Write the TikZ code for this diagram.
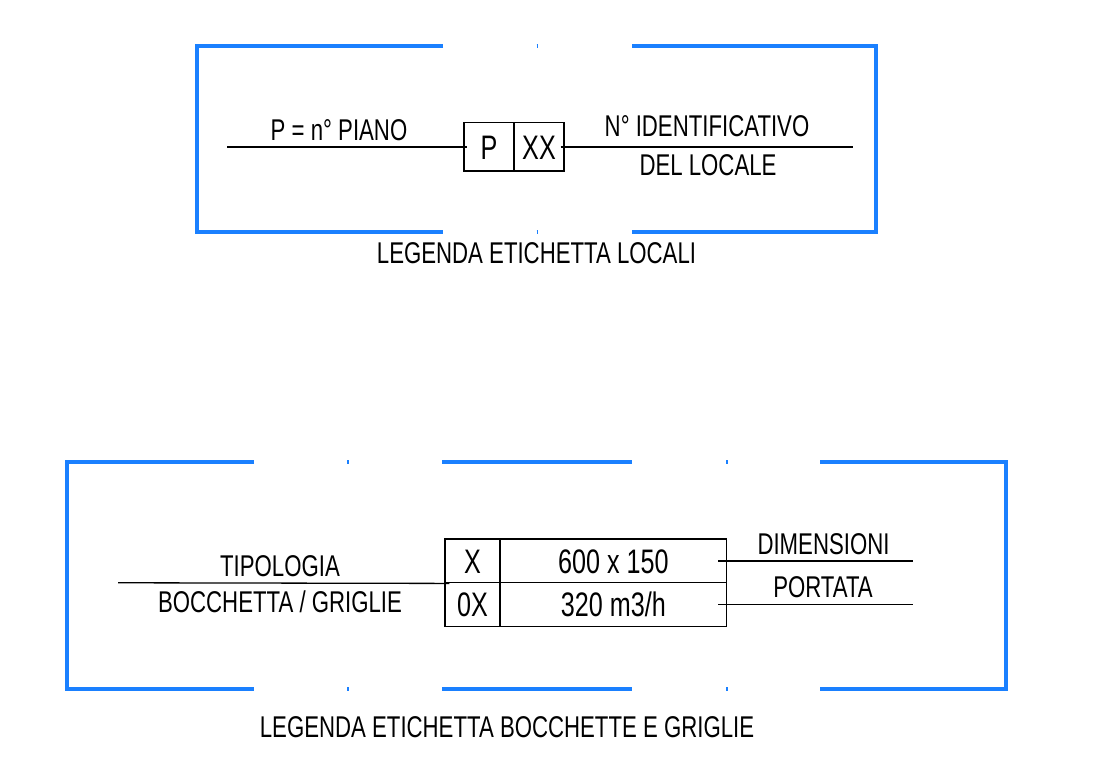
\documentclass[tikz,border=0pt]{standalone}
\usepackage{fontspec}
\setmainfont{Liberation Sans}[FakeStretch=0.74]
\definecolor{frameblue}{RGB}{26,128,255}
\newcommand\lblfont{\fontsize{30}{36}\selectfont}
\newcommand\cellfnt{\fontsize{34}{40}\selectfont}
\tikzset{
	frame/.style={draw=frameblue,line width=4.5pt},
	lead/.style={line width=1.3pt},
	label/.style={font=\lblfont,inner sep=0pt,anchor=base},
	cell/.style={draw,line width=1.3pt,inner sep=0pt,font=\cellfnt,text height=24.3pt,text depth=0pt},
}
\begin{document}
\begin{tikzpicture}[x=1pt,y=-1pt]
\useasboundingbox (0,0) rectangle (1113,767);
\draw[frame] (443,46) -- (197,46) -- (197,232) -- (443,232);
\draw[frame] (632,46) -- (876,46) -- (876,232) -- (632,232);
\draw[frame] (254,462) -- (67,462) -- (67,689) -- (254,689);
\draw[frame] (442,462) -- (632,462);
\draw[frame] (442,689) -- (632,689);
\draw[frame] (820,462) -- (1006,462) -- (1006,689) -- (820,689);
\foreach \x/\y in {536.5/46,536.5/232,347/462,347/689,726/462,726/689}{
	\draw[frame] (\x,\y) -- ++(1.5,0);
}
\node (piano) at (489,147) [cell,minimum width=50pt,minimum height=48.3pt] {P};
\node (locale) at (539,147) [cell,minimum width=50pt,minimum height=48.3pt] {XX};
\coordinate (pianoL) at (227,147);
\coordinate (localeR) at (853,147);
\draw[lead] (pianoL) -- ([xshift=4pt]piano.west);
\draw[lead] ([xshift=-4pt]locale.east) -- (localeR);
\node (pianotxt) at (339,141) [label] {P = n° PIANO};
\node (idtxt) at (707,137) [label] {N° IDENTIFICATIVO};
\node (deltxt) at (708,176) [label] {DEL LOCALE};
\node (legloc) at (536.5,263) [label] {LEGENDA ETICHETTA LOCALI};
\node (tipX) at (472.5,560.9) [cell,minimum width=55pt,minimum height=43.75pt] {X};
\node (tipO) at (472.5,604.6) [cell,minimum width=55pt,minimum height=43.75pt] {0X};
\node (dim) at (613.35,560.9) [cell,minimum width=226.7pt,minimum height=43.75pt] {600 x 150};
\node (port) at (613.35,604.6) [cell,minimum width=226.7pt,minimum height=43.75pt] {320 m3/h};
\coordinate (tipL) at (118,582.775);
\coordinate (dimR) at (913,560.9);
\coordinate (portR) at (913,604.6);
\draw[lead] (tipL) -- ([xshift=5pt]tipX.south west);
\draw[lead] ([xshift=-9pt]dim.east) -- (dimR);
\draw[lead] ([xshift=-9pt]port.east) -- (portR);
\node (tiptxt) at (280,576) [label] {TIPOLOGIA};
\node (boctxt) at (280,612) [label] {BOCCHETTA / GRIGLIE};
\node (dimtxt) at (823.5,554) [label] {DIMENSIONI};
\node (porttxt) at (823,597.6) [label] {PORTATA};
\node (legboc) at (507,737) [label] {LEGENDA ETICHETTA BOCCHETTE E GRIGLIE};
\end{tikzpicture}
\end{document}
